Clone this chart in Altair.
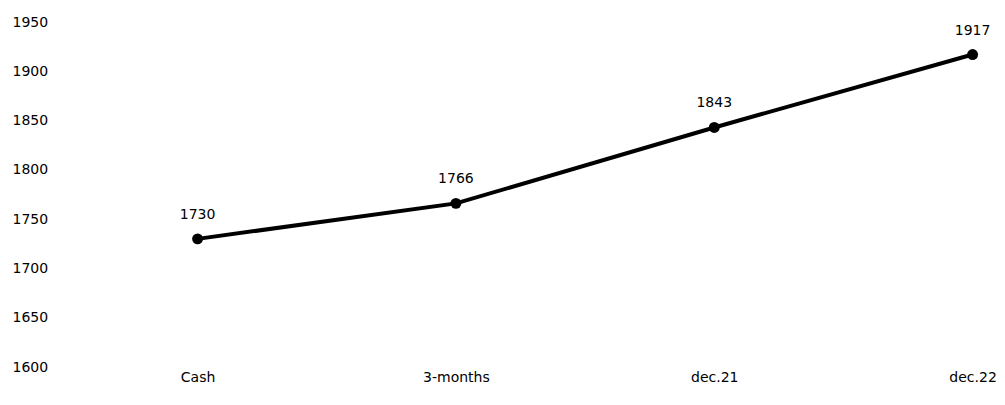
import altair as alt
import pandas as pd

categories = ["Cash", "3-months", "dec.21", "dec.22"]
values = [1730, 1766, 1843, 1917]
y_ticks = [1600, 1650, 1700, 1750, 1800, 1850, 1900, 1950]

df = pd.DataFrame({"cat": categories, "val": values})

FONT = "DejaVu Sans"

x_enc = alt.X(
    "cat:N",
    sort=categories,
    title=None,
    scale=alt.Scale(type="point", padding=0.3, align=0.92),
    axis=alt.Axis(labelAngle=0, ticks=False, domain=False, grid=False,
                  labelFont=FONT, labelFontSize=14, labelColor="#000",
                  labelPadding=3, labelBaseline="top"),
)
y_enc = alt.Y(
    "val:Q",
    title=None,
    scale=alt.Scale(domain=[1600, 1950], nice=False, zero=False),
    axis=alt.Axis(values=y_ticks, ticks=False, domain=False, grid=False,
                  labelFont=FONT, labelFontSize=14, labelColor="#000",
                  labelAlign="left", labelPadding=43, labelFlush=False,
                  labelOverlap=False, format="d"),
)

base = alt.Chart(df)
line = base.mark_line(color="black", strokeWidth=4).encode(x=x_enc, y=y_enc)
pts = base.mark_point(filled=True, color="black", size=120, opacity=1).encode(x=x_enc, y=y_enc)
labels = base.mark_text(font=FONT, fontSize=14, color="#000", dy=-24, baseline="middle").encode(
    x=x_enc, y=y_enc, text=alt.Text("val:Q", format="d")
)

chart = (
    alt.layer(line, pts, labels)
    .properties(
        width=930,
        height=345,
        padding={"left": 47, "top": 14, "right": 12, "bottom": 28},
        autosize=alt.AutoSizeParams(type="none"),
        background="white",
    )
    .configure_view(stroke=None)
)

chart.save("out.html", embed_options={"renderer": "svg", "actions": False})
